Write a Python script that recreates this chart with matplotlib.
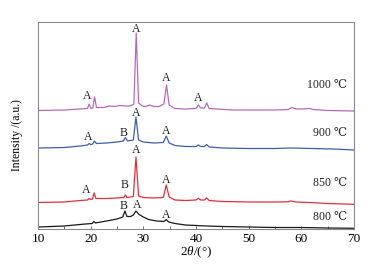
import matplotlib
matplotlib.use("Agg")
import matplotlib.pyplot as plt
from matplotlib.ticker import MultipleLocator

plt.rcParams["font.family"] = ["Liberation Serif", "DejaVu Serif"]
plt.rcParams["mathtext.fontset"] = "custom"
plt.rcParams["mathtext.rm"] = "Liberation Serif"
plt.rcParams["mathtext.it"] = "Liberation Serif:italic"

# XRD patterns, 2theta (deg) vs intensity (a.u., relative to each curve's baseline)
tt_1000 = [10, 15, 18, 19.4, 19.7, 20.0, 20.4, 20.75, 21.1, 22.5, 23.5, 24.5, 25.5, 26.5, 27.5,
           28.2, 28.65, 29.1, 29.8, 30.5, 31.2, 32.0, 33.0, 33.9, 34.4, 34.9, 36, 38, 40.0, 40.45,
           40.9, 41.6, 42.05, 42.5, 44, 47, 50, 55, 57.5, 58.2, 59, 60, 61.5, 62.3, 65, 70]
int_1000 = [0.5, 1, 2, 2.5, 7, 2.7, 3, 14, 3.5, 3.5, 5, 4.5, 5.5, 5, 5,
            7, 78, 8, 5, 4.5, 6, 4.5, 4.5, 7, 26, 6, 2.5, 2, 2.5, 6,
            3, 3, 8, 2.5, 2, 1, 1, 1, 1.5, 3.5, 2, 2, 2.5, 1.5, 0.5, 0]

tt_900 = [10, 15, 18, 19.4, 19.7, 20.0, 20.4, 20.7, 21.1, 23, 25, 26.2, 26.6, 27.0, 28.1,
          28.6, 29.1, 30, 32, 33.8, 34.35, 34.9, 36, 38, 40.0, 40.45, 40.9, 41.6, 42.0, 42.5,
          45, 50, 55, 58, 62, 66, 70]
int_900 = [0, 0.5, 2, 3, 4.5, 3.5, 4, 7, 4.5, 5, 6, 7, 10.5, 7, 8,
           31, 8, 6, 5, 5.5, 12, 5, 2.5, 1.5, 1.5, 3, 1.5, 1.5, 3.5, 1,
           0, -0.5, -0.5, 0, -0.5, -1, -2]

tt_850 = [10, 15, 18, 19.4, 19.7, 20.0, 20.35, 20.65, 21.0, 23, 25, 26.3, 26.6, 26.9, 28.1,
          28.6, 29.1, 30, 32, 33.8, 34.35, 34.9, 36, 38, 40.0, 40.45, 40.9, 41.6, 42.0, 42.5,
          45, 50, 55, 57.5, 58, 59, 61.5, 65, 70]
int_850 = [-0.5, 0, 1.5, 2, 3.5, 2.5, 3, 9, 3.5, 3.5, 4, 4.5, 7, 4.5, 5.5,
           45, 6, 4.5, 4, 4.5, 17, 5, 2, 1.5, 2, 3.7, 2, 2, 4.2, 1.5,
           0.5, 0, 0, 0.2, 1, 0, -0.5, -1.5, -2.3]

tt_800 = [10, 15, 19, 20.3, 20.6, 20.9, 23, 25, 26.1, 26.5, 26.9, 27.6, 28.1, 28.6, 29.2,
          30, 31, 32.5, 33.9, 34.35, 34.8, 36, 38, 40, 42, 45, 50, 55, 60, 65, 70]
int_800 = [0, 1, 3, 3.5, 5.5, 4, 6, 8, 10, 16, 10.5, 10.5, 12, 16, 12.5,
           10, 7.5, 6, 5.5, 7.5, 5, 3.5, 2, 1.5, 1, 0.5, 0, -0.5, -0.5, -1, -1.3]

curves = [
    ("800 ℃", tt_800, int_800, 2, "#1a1a1a"),
    ("850 ℃", tt_850, int_850, 27, "#e0303c"),
    ("900 ℃", tt_900, int_900, 81, "#3d5fab"),
    ("1000 ℃", tt_1000, int_1000, 118, "#b968b9"),
]
temp_label_y = [12, 46, 96, 144]

# phase markers (A / B) above peaks
phase_text = ["A", "A", "A", "A",
              "A", "B", "A", "A",
              "A", "B", "A", "A",
              "B", "A", "A"]
phase_x = [19.3, 28.7, 34.4, 40.5,
           19.5, 26.2, 28.6, 34.4,
           19.2, 26.4, 28.6, 34.4,
           26.3, 28.8, 34.4]
phase_y = [133, 200, 151, 131,
           92, 96, 116, 98,
           39, 44, 79, 49,
           23, 24, 14]

fig = plt.figure(figsize=(3.84, 2.70), dpi=100)
ax = fig.add_axes([38 / 384, 1 - 229 / 270, 316 / 384, 207 / 270])

for (name, tt, inten, offset, color), ly in zip(curves, temp_label_y):
    ax.plot(tt, [v + offset for v in inten], color=color, linewidth=0.9)
    ax.text(68.6, ly, name, ha="right", va="center", fontsize=8.5, color="#222222")

for t, x, y in zip(phase_text, phase_x, phase_y):
    ax.text(x, y, t, ha="center", va="center", fontsize=8.5, color="#222222")

ax.set_xlim(10, 70)
ax.set_ylim(0, 207)
ax.xaxis.set_major_locator(MultipleLocator(10))
ax.xaxis.set_minor_locator(MultipleLocator(5))
ax.tick_params(axis="x", which="both", direction="in", length=2.5, width=0.6,
               color="#555555", labelsize=9.5, pad=3)
ax.set_yticks([])
for s in ax.spines.values():
    s.set_color("#8a8a8a")
    s.set_linewidth(0.8)

fig.text(196 / 384, 1 - 252 / 270, r"2$\it{\theta}$/(°)", ha="center", va="center", fontsize=9.5)
fig.text(17 / 384, 1 - 135 / 270, "Intensity /(a.u.)", ha="center", va="center",
         rotation=90, fontsize=8.5)

fig.savefig("out.png", dpi=100)
